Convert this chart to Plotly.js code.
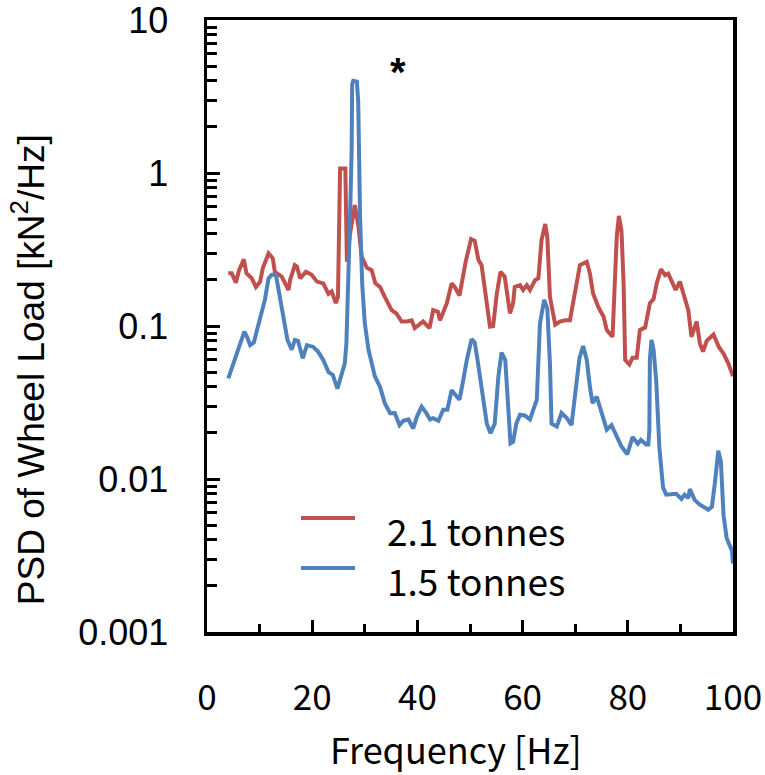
<!DOCTYPE html>
<html>
<head>
<meta charset="utf-8">
<script src="https://cdn.plot.ly/plotly-3.0.1.min.js"></script>
<style>html,body{margin:0;padding:0;background:#fff;}#chart{width:765px;height:775px;}</style>
</head>
<body>
<div id="chart"></div>
<script>
// Series: 2.1 tonnes
const freqRed = [4.05,4.7,5.5,6.1,7.0,7.5,8.5,9.3,10.1,10.6,11.7,12.5,12.9,14.2,15.5,15.8,16.7,17.1,17.7,18.8,19.9,20.9,22.1,23.1,23.7,24.5,24.9,25.3,26.3,26.6,27.2,28.1,28.8,29.4,30.4,31.3,32.0,32.9,33.8,35.1,36.0,37.0,38.0,38.9,39.5,41.1,42.3,43.0,43.9,44.3,45.6,46.5,47.1,48.0,49.2,50.2,50.9,51.6,52.2,52.9,53.8,54.4,55.1,55.8,56.6,57.6,58.2,58.5,59.5,60.1,60.8,61.4,62.4,63.0,63.6,64.3,64.7,65.2,66.2,67.1,68.1,69.0,69.6,70.4,70.9,72.2,72.8,73.4,74.4,75.4,76.0,77.1,77.6,77.9,78.3,78.8,79.2,79.5,80.3,80.9,81.7,82.3,83.3,84.2,84.9,85.5,86.3,87.1,87.7,88.6,89.1,89.9,90.5,91.5,92.1,93.1,93.7,94.3,95.0,96.3,97.3,98.2,99.1,100];
const psdRed = [0.221,0.221,0.192,0.232,0.273,0.221,0.205,0.18,0.195,0.238,0.298,0.277,0.226,0.21,0.172,0.2,0.25,0.245,0.205,0.226,0.216,0.195,0.19,0.162,0.168,0.141,0.155,1.07,1.07,0.263,0.40,0.618,0.445,0.284,0.24,0.232,0.19,0.18,0.155,0.127,0.121,0.107,0.107,0.109,0.097,0.107,0.097,0.127,0.124,0.109,0.141,0.19,0.18,0.158,0.265,0.37,0.36,0.27,0.25,0.172,0.099,0.10,0.163,0.226,0.21,0.121,0.141,0.18,0.185,0.172,0.185,0.172,0.2,0.205,0.365,0.464,0.38,0.155,0.102,0.107,0.109,0.109,0.141,0.2,0.25,0.263,0.22,0.163,0.133,0.115,0.094,0.085,0.19,0.384,0.524,0.42,0.19,0.06,0.056,0.062,0.062,0.094,0.098,0.141,0.15,0.19,0.235,0.215,0.22,0.19,0.172,0.195,0.163,0.127,0.085,0.107,0.077,0.068,0.08,0.088,0.073,0.066,0.057,0.047];

// Series: 1.5 tonnes
const freqBlue = [4.05,4.7,5.3,6.0,6.6,7.1,7.6,8.2,8.9,9.8,10.4,11.0,11.7,12.3,13.1,13.9,14.6,15.3,16.1,16.7,17.3,18.2,19.0,20.2,21.1,22.1,23.1,23.9,24.8,25.3,26.2,26.5,26.9,27.2,27.5,27.6,27.8,28.5,28.75,28.9,29.1,29.5,30.0,30.7,31.3,31.9,32.9,33.8,34.8,35.7,36.6,37.3,38.3,39.2,39.9,40.8,41.7,42.4,43.0,44.0,44.9,45.7,46.5,47.1,48.0,48.7,49.4,50.3,50.9,51.5,51.9,52.6,53.2,53.9,54.7,55.4,56.0,56.7,57.3,57.7,58.2,58.8,59.5,60.4,61.4,62.1,62.7,63.3,64.1,64.7,65.2,65.5,66.5,67.4,68.4,69.3,69.9,70.8,71.5,72.2,72.8,73.3,74.1,74.7,75.4,76.0,76.9,77.9,78.8,79.4,79.9,80.9,81.9,82.5,83.5,83.9,84.1,84.2,84.5,84.9,85.4,86.0,86.7,87.3,88.6,89.2,90.2,90.8,91.5,91.8,92.7,93.7,95.3,96.0,96.6,97.0,97.2,97.7,98.2,98.8,99.8,100];
const psdBlue = [0.0455,0.053,0.06,0.073,0.083,0.092,0.085,0.075,0.078,0.104,0.121,0.148,0.205,0.216,0.216,0.155,0.112,0.081,0.07,0.081,0.08,0.0615,0.075,0.073,0.068,0.06,0.05,0.048,0.039,0.0455,0.057,0.077,0.19,0.52,1.41,3.8,4.0,3.95,2.9,1.2,0.52,0.19,0.104,0.07,0.057,0.047,0.040,0.0313,0.0269,0.027,0.0225,0.024,0.0245,0.0214,0.0255,0.0297,0.027,0.0245,0.025,0.024,0.0284,0.0284,0.038,0.036,0.033,0.044,0.06,0.082,0.078,0.058,0.047,0.0345,0.023,0.0199,0.023,0.047,0.067,0.06,0.0297,0.0171,0.0175,0.023,0.0263,0.026,0.0245,0.0284,0.033,0.104,0.148,0.13,0.057,0.023,0.022,0.027,0.025,0.0225,0.033,0.0615,0.074,0.06,0.04,0.0313,0.0345,0.0297,0.0245,0.021,0.0225,0.0188,0.0163,0.0153,0.0145,0.0188,0.017,0.018,0.0168,0.0168,0.021,0.06,0.081,0.07,0.044,0.0161,0.0088,0.0079,0.0079,0.008,0.0074,0.0079,0.0075,0.0086,0.0073,0.0068,0.0063,0.0066,0.0097,0.0138,0.0153,0.013,0.0058,0.0041,0.0034,0.0028];

const seriesNames = ["2.1 tonnes", "1.5 tonnes"];
const seriesColors = ["#C0504D", "#4F81BD"];
const xTickVals = [0, 20, 40, 60, 80, 100];
const xTickText = ["0", "20", "40", "60", "80", "100"];
const yTickVals = [0.001, 0.01, 0.1, 1, 10];
const yTickText = ["0.001", "0.01", "0.1", "1", "10"];
const peakMarker = "*";

// minor log ticks (2..9 in each decade)
const yMinor = [];
for (let e = -3; e < 1; e++) for (let m = 2; m <= 9; m++) yMinor.push(m * Math.pow(10, e));

const traces = [
  {x: freqRed, y: psdRed, name: seriesNames[0], type: "scatter", mode: "lines",
   line: {color: seriesColors[0], width: 4}, showlegend: false},
  {x: freqBlue, y: psdBlue, name: seriesNames[1], type: "scatter", mode: "lines",
   line: {color: seriesColors[1], width: 4}, showlegend: false}
];

const legX0 = 0.1787, legX1 = 0.2814, legTextX = 0.3384;
const legLineY = [0.1863, 0.1046], legTextY = [0.1667, 0.085];

const layout = {
  width: 765, height: 775,
  margin: {l: 207, r: 32, t: 20, b: 143, pad: 0},
  paper_bgcolor: "#ffffff", plot_bgcolor: "#ffffff",
  showlegend: false,
  xaxis: {
    range: [0, 100], tickmode: "array", tickvals: xTickVals, ticktext: xTickText,
    ticks: "inside", ticklen: 12, tickwidth: 3, tickcolor: "#000",
    minor: {ticks: "inside", ticklen: 8, tickwidth: 3, tickcolor: "#000", tickvals: [10, 30, 50, 70, 90]},
    showline: true, linewidth: 3.5, linecolor: "#000", mirror: true,
    showgrid: false, zeroline: false,
    tickfont: {family: "Noto Sans CJK JP", size: 35, color: "#000"},
    ticklabelstandoff: 32, ticklabeloverflow: "allow"
  },
  yaxis: {
    type: "log", range: [-3, 1], tickmode: "array", tickvals: yTickVals, ticktext: yTickText,
    ticks: "inside", ticklen: 13, tickwidth: 3, tickcolor: "#000",
    minor: {ticks: "inside", ticklen: 10, tickwidth: 3, tickcolor: "#000", tickvals: yMinor},
    showline: true, linewidth: 3.5, linecolor: "#000", mirror: true,
    showgrid: false, zeroline: false,
    tickfont: {family: "Liberation Sans", size: 36, color: "#000"},
    ticklabelstandoff: 28, ticklabeloverflow: "allow"
  },
  shapes: [
    {type: "line", xref: "paper", yref: "paper", x0: legX0, x1: legX1, y0: legLineY[0], y1: legLineY[0], line: {color: seriesColors[0], width: 4}},
    {type: "line", xref: "paper", yref: "paper", x0: legX0, x1: legX1, y0: legLineY[1], y1: legLineY[1], line: {color: seriesColors[1], width: 4}}
  ],
  annotations: [
    {text: seriesNames[0], xref: "paper", yref: "paper", x: legTextX, y: legTextY[0], xanchor: "left", yanchor: "middle", showarrow: false,
     font: {family: "Noto Sans CJK JP", size: 37, color: "#000"}},
    {text: seriesNames[1], xref: "paper", yref: "paper", x: legTextX, y: legTextY[1], xanchor: "left", yanchor: "middle", showarrow: false,
     font: {family: "Noto Sans CJK JP", size: 37, color: "#000"}},
    {text: "<b>" + peakMarker + "</b>", xref: "x", yref: "y", x: 36.3, y: Math.log10(4.6), xanchor: "center", yanchor: "middle", showarrow: false,
     font: {family: "Liberation Sans", size: 40, color: "#000"}},
    {text: "PSD of Wheel Load [kN<sup>2</sup>/Hz]", xref: "paper", yref: "paper", x: -0.34, y: 0.428, xanchor: "center", yanchor: "middle",
     textangle: -90, showarrow: false, font: {family: "Liberation Sans", size: 37, color: "#000"}},
    {text: "Frequency [Hz]", xref: "paper", yref: "paper", x: 0.473, y: -0.19, xanchor: "center", yanchor: "middle",
     showarrow: false, font: {family: "Noto Sans CJK JP", size: 36, color: "#000"}}
  ]
};

Plotly.newPlot("chart", traces, layout, {displayModeBar: false, staticPlot: true});
</script>
</body>
</html>
